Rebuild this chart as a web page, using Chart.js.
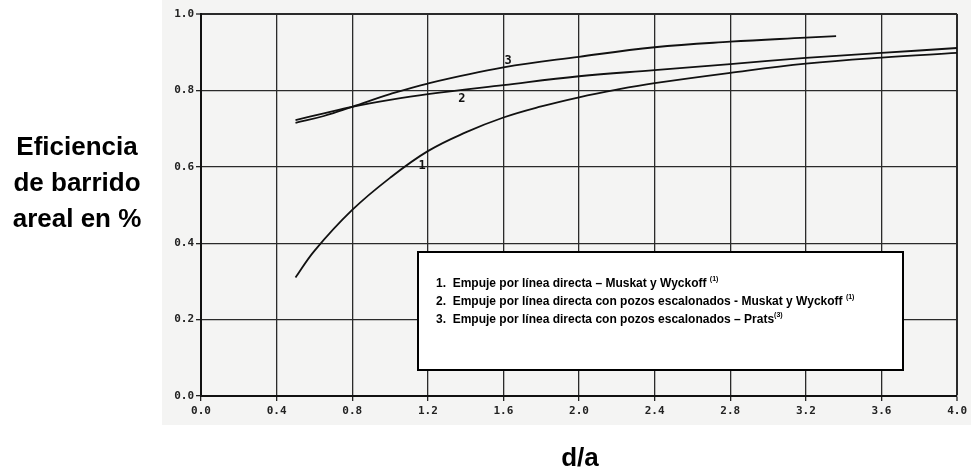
<!DOCTYPE html>
<html>
<head>
<meta charset="utf-8">
<script src="https://cdn.jsdelivr.net/npm/chart.js@4.4.1/dist/chart.umd.min.js"></script>
<style>
html,body{margin:0;padding:0;background:#fff;}
#wrap{width:971px;height:470px;position:relative;}
</style>
</head>
<body>
<div id="wrap"><canvas id="c" width="971" height="470"></canvas></div>
<script>
// ---- data ----
const curve1X = [0.5, 0.6, 0.8, 1.0, 1.2, 1.4, 1.6, 1.8, 2.0, 2.2, 2.4, 2.8, 3.2, 3.6, 4.0];
const curve1Y = [0.31, 0.38, 0.487, 0.571, 0.641, 0.690, 0.729, 0.758, 0.782, 0.802, 0.819, 0.846, 0.870, 0.886, 0.898];
const curve2X = [0.5, 0.65, 0.8, 1.0, 1.2, 1.6, 2.0, 2.4, 2.8, 3.2, 3.6, 4.0];
const curve2Y = [0.7225, 0.74, 0.757, 0.775, 0.79, 0.814, 0.837, 0.853, 0.869, 0.885, 0.898, 0.911];
const curve3X = [0.5, 0.65, 0.8, 1.0, 1.2, 1.6, 2.0, 2.4, 2.8, 3.2, 3.36];
const curve3Y = [0.715, 0.733, 0.757, 0.79, 0.818, 0.86, 0.888, 0.913, 0.9275, 0.938, 0.942];
const curveLabels = ["1", "2", "3"];
const curveLabelX = [1.17, 1.38, 1.625];
const curveLabelY = [0.602, 0.777, 0.877];
const legendLines = [
  ["1.  Empuje por línea directa – Muskat y Wyckoff ", "(1)"],
  ["2.  Empuje por línea directa con pozos escalonados - Muskat y Wyckoff ", "(1)"],
  ["3.  Empuje por línea directa con pozos escalonados – Prats", "(3)"]
];
const yTitleLines = ["Eficiencia", "de barrido", "areal en %"];
const xTitle = "d/a";
const xMin = 0, xMax = 4, xStep = 0.4;
const yMin = 0, yMax = 1, yStep = 0.2;

function pts(xs, ys){ return xs.map((x,i)=>({x:x, y:ys[i]})); }

const lineStyle = {borderColor:'#111', borderWidth:1.8, pointRadius:0, showLine:true, fill:false, tension:0.4};

const decor = {
  id:'decor',
  beforeDraw(chart){
    const ctx = chart.ctx;
    ctx.save();
    ctx.fillStyle = '#ffffff';
    ctx.fillRect(0,0,chart.width,chart.height);
    ctx.fillStyle = '#f4f4f3';
    ctx.fillRect(162,0,chart.width-162,425);
    ctx.restore();
  },
  afterDraw(chart){
    const ctx = chart.ctx, a = chart.chartArea;
    const xs = chart.scales.x, ys = chart.scales.y;
    ctx.save();
    // curve numbers
    ctx.fillStyle = '#111';
    ctx.font = 'bold 12px "DejaVu Sans Mono"';
    ctx.textAlign = 'center'; ctx.textBaseline = 'middle';
    curveLabels.forEach((t,i)=>{
      ctx.fillText(t, xs.getPixelForValue(curveLabelX[i]), ys.getPixelForValue(curveLabelY[i]));
    });
    // legend box
    const bx = a.left + 217, by = a.top + 238, bw = 485, bh = 118;
    ctx.fillStyle = '#fff';
    ctx.fillRect(bx, by, bw, bh);
    ctx.lineWidth = 2; ctx.strokeStyle = '#000';
    ctx.strokeRect(bx, by, bw, bh);
    ctx.fillStyle = '#000';
    ctx.textAlign = 'left'; ctx.textBaseline = 'alphabetic';
    legendLines.forEach((ln,i)=>{
      const yb = by + 35 + i*18;
      ctx.font = 'bold 12px "Liberation Sans", Arial, sans-serif';
      ctx.fillText(ln[0], bx + 18, yb);
      const w = ctx.measureText(ln[0]).width;
      ctx.font = 'bold 7px "Liberation Sans", Arial, sans-serif';
      ctx.fillText(ln[1], bx + 18 + w, yb - 6);
    });
    // y title
    ctx.font = 'bold 26px "Liberation Sans", Arial, sans-serif';
    ctx.textAlign = 'center';
    yTitleLines.forEach((t,i)=>{ ctx.fillText(t, 77, 155 + i*36); });
    // x title
    ctx.fillText(xTitle, 580, 466);
    ctx.restore();
  }
};

const gridW = (ctx, max) => (ctx.tick && Math.abs(ctx.tick.value - max) < 1e-6) ? 2 : 1.3;

new Chart(document.getElementById('c'), {
  type:'scatter',
  data:{datasets:[
    Object.assign({label:'1', data:pts(curve1X, curve1Y)}, lineStyle),
    Object.assign({label:'2', data:pts(curve2X, curve2Y)}, lineStyle),
    Object.assign({label:'3', data:pts(curve3X, curve3Y)}, lineStyle)
  ]},
  options:{
    responsive:false, animation:false,
    layout:{padding:{left:0, right:13, top:14, bottom:0}},
    plugins:{legend:{display:false}, tooltip:{enabled:false}},
    scales:{
      x:{type:'linear', min:xMin, max:xMax,
        afterFit(s){ s.height = 74; },
        ticks:{stepSize:xStep, color:'#222', padding:4, maxRotation:0,
          font:{family:'"DejaVu Sans Mono"', size:11, weight:'bold'},
          callback:v=>Number(v).toFixed(1)},
        grid:{color:'#2a2a2a', lineWidth:c=>gridW(c,xMax), tickLength:5, tickColor:'#222', tickWidth:1.3},
        border:{display:true, color:'#111', width:2}
      },
      y:{type:'linear', min:yMin, max:yMax,
        afterFit(s){ s.width = 201; },
        ticks:{stepSize:yStep, color:'#222', padding:2,
          font:{family:'"DejaVu Sans Mono"', size:11, weight:'bold'},
          callback:v=>Number(v).toFixed(1)},
        grid:{color:'#2a2a2a', lineWidth:c=>gridW(c,yMax), tickLength:5, tickColor:'#222', tickWidth:1.3},
        border:{display:true, color:'#111', width:2}
      }
    }
  },
  plugins:[decor]
});
</script>
</body>
</html>
